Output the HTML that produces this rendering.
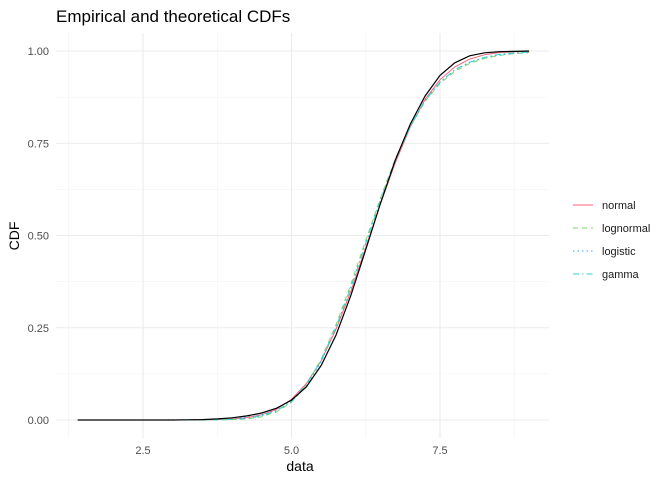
<!DOCTYPE html>
<html><head><meta charset="utf-8"><style>
body{margin:0;background:#fff;font-family:"Liberation Sans",sans-serif;}
svg text{font-family:"Liberation Sans",sans-serif;}
</style></head><body>
<svg width="672" height="480" xmlns="http://www.w3.org/2000/svg">
<text x="56" y="22" font-size="17" fill="#000">Empirical and theoretical CDFs</text>
<g id="grid"></g>
<g id="series"></g>
<g id="axes"></g>
<text x="300" y="471" font-size="14" text-anchor="middle">data</text>
<text transform="translate(19,236) rotate(-90)" font-size="14" text-anchor="middle">CDF</text>
<g id="legend"></g>
</svg>
<script>
const xs=[1.4,1.75,2,2.25,2.5,2.75,3,3.25,3.5,3.75,4,4.25,4.5,4.75,5,5.25,5.5,5.75,6,6.25,6.5,6.75,7,7.25,7.5,7.75,8,8.25,8.5,8.75,9];
const empirical=[0,0,0,0,0,0,0,0.0005,0.001,0.003,0.006,0.011,0.019,0.032,0.054,0.09,0.148,0.23,0.338,0.462,0.588,0.705,0.802,0.878,0.934,0.968,0.987,0.995,0.998,0.999,1];
const normal=[0,0,0,0,0,0,0,0,0.0003,0.001,0.0026,0.0064,0.014,0.029,0.056,0.099,0.161,0.246,0.349,0.468,0.587,0.698,0.794,0.869,0.922,0.957,0.978,0.99,0.996,0.998,0.999];
const lognormal=[0,0,0,0,0,0,0,0,0,0.0003,0.001,0.003,0.009,0.022,0.048,0.095,0.165,0.258,0.368,0.487,0.603,0.708,0.796,0.864,0.912,0.945,0.966,0.98,0.988,0.993,0.996];
const logistic=[0,0,0,0,0,0,0.0002,0.0005,0.001,0.002,0.004,0.008,0.014,0.026,0.05,0.092,0.158,0.25,0.36,0.478,0.597,0.706,0.797,0.867,0.916,0.949,0.969,0.982,0.989,0.994,0.996];
const gamma=[0,0,0,0,0,0,0,0,0.0001,0.0005,0.0015,0.004,0.011,0.025,0.051,0.096,0.162,0.252,0.36,0.479,0.597,0.704,0.795,0.865,0.915,0.949,0.97,0.983,0.991,0.995,0.997];
const xTicks=[2.5,5,7.5], xMinor=[1.25,3.75,6.25,8.75];
const yTicks=[0,0.25,0.5,0.75,1], yTickLabels=["0.00","0.25","0.50","0.75","1.00"], yMinor=[0.125,0.375,0.625,0.875];
const seriesNames=["normal","lognormal","logistic","gamma"];
const X=v=>143+(v-2.5)*59.4, Y=v=>420-v*369;
const NS="http://www.w3.org/2000/svg";
function mk(t,a,p){const e=document.createElementNS(NS,t);for(const k in a)e.setAttribute(k,a[k]);p.appendChild(e);return e;}
const grid=document.getElementById('grid'),axes=document.getElementById('axes');
const L=56,R=549,T=33,B=438;
yMinor.forEach(v=>{const l=mk('line',{x1:L,x2:R,y1:Y(v),y2:Y(v),stroke:'#f2f2f2','stroke-width':0.6},grid);
});
xMinor.forEach(v=>{const l=mk('line',{x1:X(v),x2:X(v),y1:T,y2:B,stroke:'#f2f2f2','stroke-width':0.6},grid);
});
yTicks.forEach((v,i)=>{const l=mk('line',{x1:L,x2:R,y1:Y(v),y2:Y(v),stroke:'#ebebeb','stroke-width':1.1},grid);

const t=mk('text',{x:49,y:Y(v)+4,'font-size':11,'text-anchor':'end',fill:'#4d4d4d'},axes);t.textContent=yTickLabels[i];
});
xTicks.forEach(v=>{const l=mk('line',{x1:X(v),x2:X(v),y1:T,y2:B,stroke:'#ebebeb','stroke-width':1.1},grid);

const t=mk('text',{x:X(v),y:454,'font-size':11,'text-anchor':'middle',fill:'#4d4d4d'},axes);t.textContent=v.toFixed(1);
});
const sg=document.getElementById('series');
const styles=[{c:'#F5637A',d:''},{c:'#7CD46B',d:'5,4'},{c:'#35A7F0',d:'1.5,3'},{c:'#2FD3D0',d:'6,3,1.5,3'}];
[normal,lognormal,logistic,gamma].forEach((s,i)=>{
const p=mk('path',{d:s.map((v,j)=>(j?'L':'M')+X(xs[j]).toFixed(1)+','+Y(v).toFixed(1)).join(''),fill:'none',stroke:styles[i].c,'stroke-width':1,'stroke-dasharray':styles[i].d},sg);
});
const ep=mk('path',{d:empirical.map((v,j)=>(j?'L':'M')+X(xs[j]).toFixed(1)+','+Y(v).toFixed(1)).join(''),fill:'none',stroke:'#000','stroke-width':1.2},sg);

const lg=document.getElementById('legend');
seriesNames.forEach((n,i)=>{const y=205+i*23;
const g=mk('g',{},lg);
mk('line',{x1:573,x2:593,y1:y,y2:y,stroke:styles[i].c,'stroke-width':1,'stroke-dasharray':styles[i].d},g);
const t=mk('text',{x:602,y:y+4,'font-size':11,fill:'#1a1a1a'},g);t.textContent=n;});
</script>
</body></html>
